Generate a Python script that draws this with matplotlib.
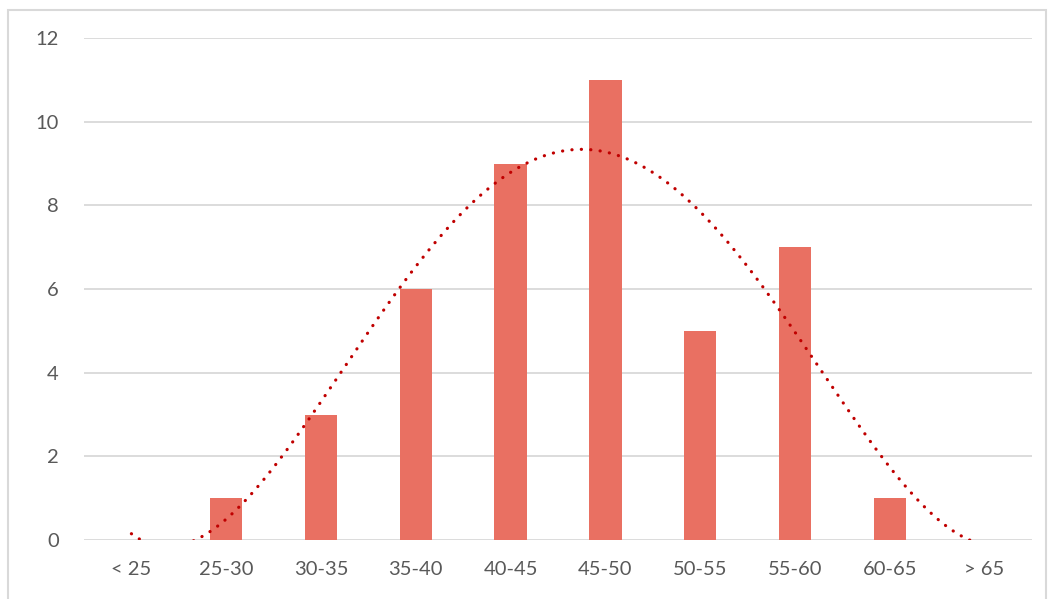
import numpy as np
import matplotlib
matplotlib.use('Agg')
from matplotlib import pyplot as plt
from matplotlib.patches import Rectangle

categories = ['< 25', '25-30', '30-35', '35-40', '40-45', '45-50', '50-55', '55-60', '60-65', '> 65']
counts = [0, 1, 3, 6, 9, 11, 5, 7, 1, 0]
y_ticks = [0, 2, 4, 6, 8, 10, 12]

bar_color = '#E97062'
trend_color = '#C00000'
text_color = '#595959'
grid_color = '#D9D9D9'

plt.rcParams['font.family'] = ['Lato', 'DejaVu Sans']

fig = plt.figure(figsize=(10.54, 5.99), dpi=100)
ax = fig.add_axes([84 / 1054, 1 - 540 / 599, 948 / 1054, 502 / 599])

x = np.arange(1, len(categories) + 1)
ax.bar(x, counts, width=0.34, color=bar_color, zorder=2)

# polynomial trendline (order 4) fitted to the bar heights
coef = np.polyfit(x, counts, 4)
xs = np.linspace(x[0], x[-1], 400)
ax.plot(xs, np.polyval(coef, xs), color=trend_color, lw=2.3,
        ls=(0, (0.05, 2.9)), dash_capstyle='round', zorder=3)

ax.set_xlim(0.5, len(categories) + 0.5)
ax.set_ylim(0, 12)
ax.set_xticks(x)
ax.set_xticklabels(categories)
ax.set_yticks(y_ticks)
ax.tick_params(length=0, labelsize=14.5, colors=text_color)
ax.tick_params(axis='x', pad=15)
ax.tick_params(axis='y', pad=18)
ax.grid(axis='y', color=grid_color, lw=1.3, zorder=0)
ax.set_axisbelow(True)
for s in ax.spines.values():
    s.set_visible(False)

# chart area border
fig.patches.append(Rectangle((8 / 1054, -0.05), 1038 / 1054, 1.05 - 10 / 599,
                             transform=fig.transFigure, fill=False,
                             edgecolor='#D9D9D9', lw=1.5))

fig.savefig('out.png', dpi=100)
